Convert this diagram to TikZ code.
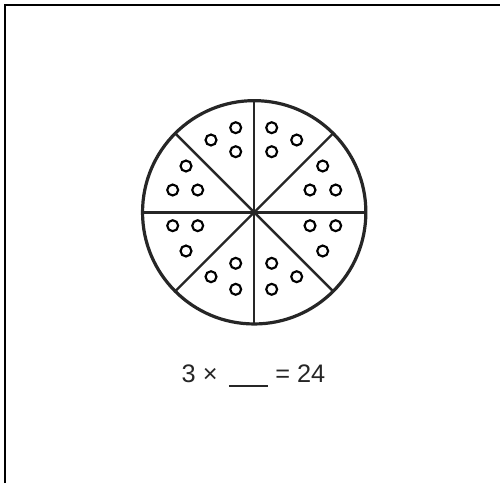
\documentclass[tikz,border=0pt]{standalone}
\usepackage{fontspec}
\setmainfont{Liberation Sans}
\usetikzlibrary{positioning}

\begin{document}
\begin{tikzpicture}[
  x=0.75pt,y=-0.75pt,
  frame line/.style={
    draw=black,
    line width=1.7pt
  },
  plate/.style={
    circle,
    draw=black!85,
    line width=2.4pt,
    minimum size=167.5pt,
    inner sep=0pt,
    outer sep=0pt
  },
  spoke/.style={
    draw=black!85,
    line width=1.8pt
  },
  counter/.style={
    circle,
    draw=black,
    line width=1.6pt,
    minimum size=8.2pt,
    inner sep=0pt
  },
  sum text/.style={
    font=\fontsize{19pt}{21pt}\selectfont,
    text=black!85,
    inner sep=0pt
  }
]

\useasboundingbox (0,0) rectangle (500,483);

% cropped frame: only top and left edges
\coordinate (frame-bl) at (5,483);
\coordinate (frame-tl) at (5,5);
\coordinate (frame-tr) at (500,5);
\draw[frame line] (frame-bl) -- (frame-tl) -- (frame-tr);

\node[plate] (pizza) at (254.2,212.3) {};
\foreach \ang in {0,45,...,315}
  \draw[spoke] (pizza.center) -- (pizza.\ang);

% three counters in each slice
\foreach \cx/\cy [count=\i] in {
    235.7/127.7, 211/140, 235.7/151.7,
    271.7/127.7, 296.7/140, 271.7/151.7,
    322.7/166, 310/190, 335.7/190,
    186/166, 172.7/190, 197.7/190,
    172.7/225.7, 197.7/225.7, 186/251,
    310/225.7, 335.7/225.7, 322.7/251,
    235.7/263.3, 211/276.7, 235.7/289.3,
    271.7/263.3, 296.7/276.7, 271.7/289.3}
  \node[counter] (dot-\i) at (\cx,\cy) {};

\node[sum text,anchor=base] (equation) at (253.5,382)
  {3 ×\hspace{0.45em}\rule[-3.6pt]{29.5pt}{1.6pt} = 24};

\end{tikzpicture}
\end{document}
